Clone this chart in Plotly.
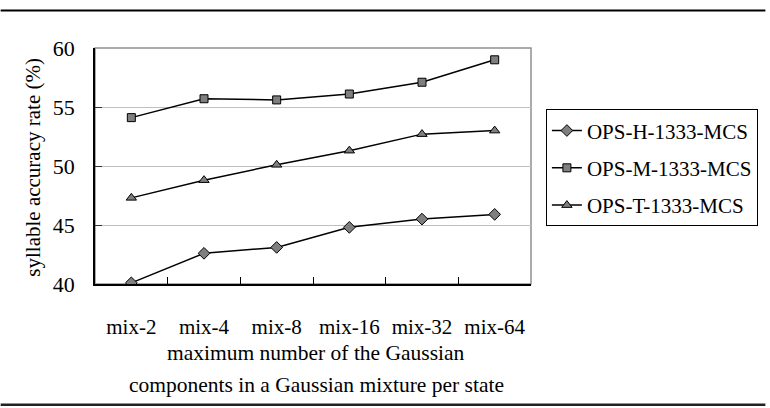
import plotly.graph_objects as go

categories = ["mix-2", "mix-4", "mix-8", "mix-16", "mix-32", "mix-64"]
ops_h = [40.1, 42.6, 43.1, 44.8, 45.5, 45.9]
ops_m = [54.1, 55.7, 55.6, 56.1, 57.1, 59.0]
ops_t = [47.3, 48.8, 50.1, 51.3, 52.7, 53.0]
series_names = ["OPS-H-1333-MCS", "OPS-M-1333-MCS", "OPS-T-1333-MCS"]
y_ticks = [40, 45, 50, 55, 60]

FONT = "Liberation Serif"
W, H = 770, 408
L, R, T, B = 95, 236, 47.5, 124
pw = W - L - R
ph = H - T - B

def px_x(x):
    return (x - L) / pw

def px_y(y):
    return (H - B - y) / ph

fig = go.Figure()
symbols = ["diamond", "square", "triangle-up"]
sizes = [9, 8, 9]
for i, (name, vals) in enumerate(zip(series_names, [ops_h, ops_m, ops_t])):
    fig.add_trace(go.Scatter(
        x=categories, y=vals, name=name, mode="lines+markers",
        legendgroup=f"g{i}",
        line=dict(color="black", width=1.5),
        marker=dict(symbol=symbols[i], size=sizes[i], color="#7f7f7f",
                    line=dict(color="black", width=1)),
    ))

fig.update_layout(
    width=W, height=H,
    margin=dict(l=L, r=R, t=T, b=B),
    paper_bgcolor="white", plot_bgcolor="white",
    font=dict(family=FONT, size=21, color="black"),
    showlegend=True,
    legend=dict(
        x=px_x(549), y=px_y(109), xanchor="left", yanchor="top",
        bordercolor="black", borderwidth=1, bgcolor="white",
        font=dict(family=FONT, size=21, color="black"),
        traceorder="grouped", tracegroupgap=7,
    ),
    xaxis=dict(
        type="category", range=[-0.5, 5.5],
        showline=True, linecolor="black", linewidth=1.5,
        ticks="inside", ticklen=7, tickcolor="black", tickwidth=1,
        tickson="boundaries", showgrid=False,
        ticklabelstandoff=23,
        tickfont=dict(family=FONT, size=21),
    ),
    yaxis=dict(
        range=[40, 60], tickvals=y_ticks,
        showline=True, linecolor="black", linewidth=1.5,
        ticks="inside", ticklen=7, tickcolor="#333333", tickwidth=1,
        showgrid=True, gridcolor="#c0c0c0", gridwidth=1,
        zeroline=False,
        ticklabelstandoff=14,
        tickfont=dict(family=FONT, size=22),
    ),
    shapes=[
        dict(type="rect", xref="paper", yref="paper", x0=0, x1=1, y0=0, y1=1,
             line=dict(color="#909090", width=1.5), layer="below"),
        dict(type="line", xref="paper", yref="paper", x0=px_x(0), x1=px_x(770),
             y0=px_y(10), y1=px_y(10), line=dict(color="black", width=2)),
        dict(type="line", xref="paper", yref="paper", x0=px_x(0), x1=px_x(770),
             y0=px_y(405), y1=px_y(405), line=dict(color="#222222", width=2.5)),
    ],
    annotations=[
        dict(text="maximum number of the Gaussian", xref="paper", yref="paper",
             x=px_x(318), y=px_y(353), xanchor="center", yanchor="middle",
             showarrow=False, font=dict(family=FONT, size=21.5)),
        dict(text="components in a Gaussian mixture per state", xref="paper", yref="paper",
             x=px_x(318), y=px_y(385), xanchor="center", yanchor="middle",
             showarrow=False, font=dict(family=FONT, size=21.5)),
        dict(text="syllable accuracy rate (%)", xref="paper", yref="paper",
             x=px_x(33), y=px_y(167), xanchor="center", yanchor="middle",
             textangle=-90, showarrow=False, font=dict(family=FONT, size=21)),
    ],
)

fig.write_html("out.html")
